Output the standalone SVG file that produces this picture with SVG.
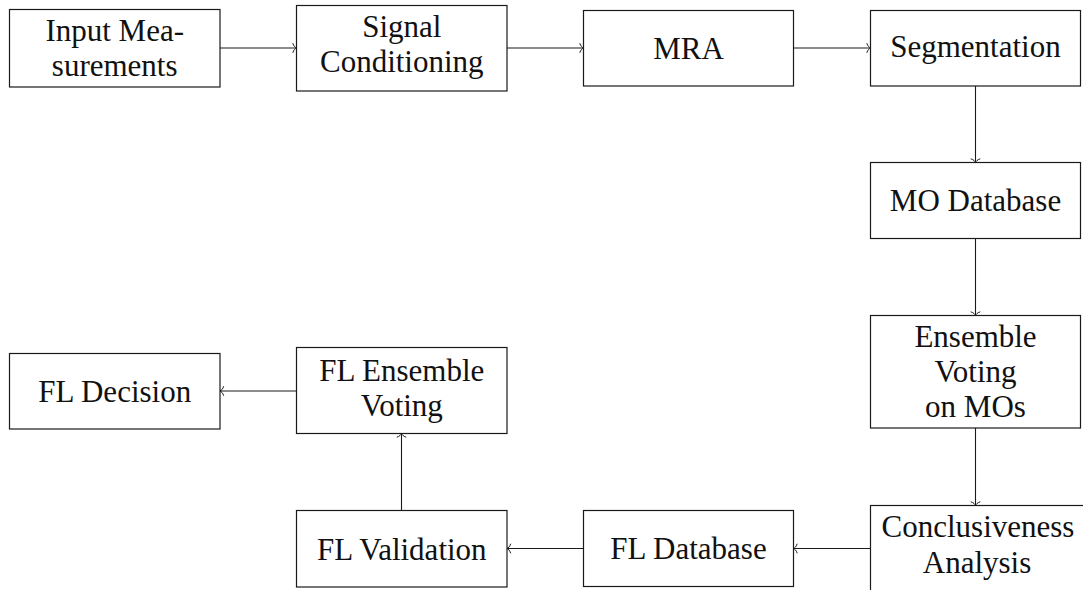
<svg xmlns="http://www.w3.org/2000/svg" width="1083" height="590" viewBox="0 0 1083 590">
  <style>
    .box { fill: #ffffff; stroke: #1a1a1a; stroke-width: 1.2; }
    .lbl { font-family: "Liberation Serif", "Times New Roman", serif; font-size: 31px; fill: #111111; text-anchor: middle; }
    .edge { fill: none; stroke: #1a1a1a; stroke-width: 1.1; }
  </style>
  <defs>
    <!-- open curved "to"-style arrow tip -->
    <marker id="tip" markerUnits="userSpaceOnUse" markerWidth="12" markerHeight="12" viewBox="-6 -6 12 12" refX="0" refY="0" orient="auto" overflow="visible">
      <path d="M -3.6 -4.4 C -2.8 -1.8 -1.2 -0.5 0 0 C -1.2 0.5 -2.8 1.8 -3.6 4.4" fill="none" stroke="#1a1a1a" stroke-width="1" stroke-linecap="round"/>
    </marker>
  </defs>

  <rect width="1083" height="590" fill="#ffffff"/>

  <g id="connectors">
    <path class="edge" d="M 220 48 H 296.5" marker-end="url(#tip)"/>
    <path class="edge" d="M 507 48 H 583.5" marker-end="url(#tip)"/>
    <path class="edge" d="M 793.5 48 H 870.5" marker-end="url(#tip)"/>
    <path class="edge" d="M 975.5 86 V 162.5" marker-end="url(#tip)"/>
    <path class="edge" d="M 975.5 238.5 V 315.5" marker-end="url(#tip)"/>
    <path class="edge" d="M 975.5 428 V 505.5" marker-end="url(#tip)"/>
    <path class="edge" d="M 870.5 548.5 H 793.5" marker-end="url(#tip)"/>
    <path class="edge" d="M 583.5 548.5 H 507" marker-end="url(#tip)"/>
    <path class="edge" d="M 401.5 510.5 V 433.5" marker-end="url(#tip)"/>
    <path class="edge" d="M 296.5 391 H 220" marker-end="url(#tip)"/>
  </g>

  <g id="n-input">
    <rect class="box" x="9.5" y="9.5" width="210.5" height="77.5"/>
    <text class="lbl" x="114.7" y="40.7">Input Mea-</text>
    <text class="lbl" x="114.7" y="76">surements</text>
  </g>

  <g id="n-signal">
    <rect class="box" x="296.5" y="5.5" width="210.5" height="85.5"/>
    <text class="lbl" x="401.8" y="37">Signal</text>
    <text class="lbl" x="401.8" y="72">Conditioning</text>
  </g>

  <g id="n-mra">
    <rect class="box" x="583.5" y="10.5" width="210" height="75.5"/>
    <text class="lbl" x="688.5" y="59">MRA</text>
  </g>

  <g id="n-segmentation">
    <rect class="box" x="870.5" y="10.5" width="210" height="75.5"/>
    <text class="lbl" x="975.5" y="56.5">Segmentation</text>
  </g>

  <g id="n-mo-database">
    <rect class="box" x="870.5" y="162.5" width="210" height="76"/>
    <text class="lbl" x="975.5" y="211">MO Database</text>
  </g>

  <g id="n-ensemble-voting">
    <rect class="box" x="870.5" y="315.5" width="210" height="112.5"/>
    <text class="lbl" x="975.5" y="347">Ensemble</text>
    <text class="lbl" x="975.5" y="382">Voting</text>
    <text class="lbl" x="975.5" y="417">on MOs</text>
  </g>

  <g id="n-conclusiveness">
    <rect class="box" x="870.5" y="505.5" width="220" height="100"/>
    <text class="lbl" x="978" y="537">Conclusiveness</text>
    <text class="lbl" x="977" y="572.5">Analysis</text>
  </g>

  <g id="n-fl-database">
    <rect class="box" x="583.5" y="510.5" width="210" height="76"/>
    <text class="lbl" x="688.5" y="559.3">FL Database</text>
  </g>

  <g id="n-fl-validation">
    <rect class="box" x="296.5" y="510.5" width="210.5" height="76.5"/>
    <text class="lbl" x="401.8" y="560">FL Validation</text>
  </g>

  <g id="n-fl-ensemble">
    <rect class="box" x="296.5" y="347.5" width="210.5" height="86"/>
    <text class="lbl" x="401.8" y="380.7">FL Ensemble</text>
    <text class="lbl" x="401.8" y="415.5">Voting</text>
  </g>

  <g id="n-fl-decision">
    <rect class="box" x="9.5" y="353.5" width="210.5" height="75.5"/>
    <text class="lbl" x="114.7" y="401.7">FL Decision</text>
  </g>
</svg>
